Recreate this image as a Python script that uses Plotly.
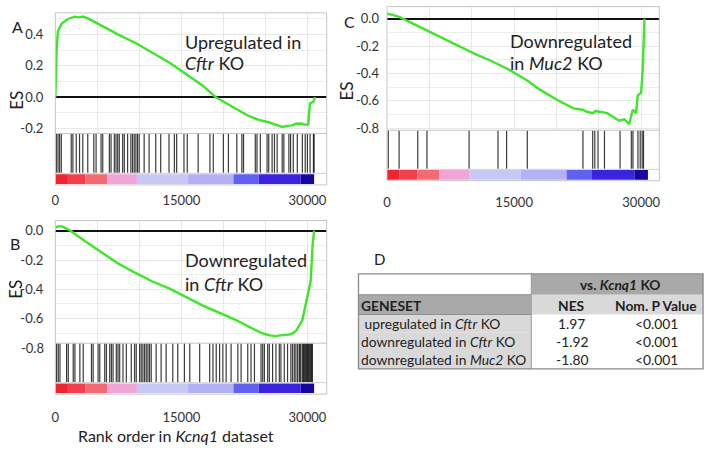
import plotly.graph_objects as go

W, H = 712, 454
FONT = "Lato, 'Open Sans', sans-serif"
GREEN = "#3fe52b"
HITCOL = "rgba(10,10,10,0.8)"

# ---------------- data ----------------
# ranked-list colour strip (shared by all three panels)
strip_edges = [0, 1500, 3600, 6200, 9700, 15800, 21200, 24200, 29200, 30800]
strip_colors = ["#ec2530", "#ef3f4c", "#f26b74", "#efa5d6", "#c8c8f7",
                "#b3b0f3", "#6161f0", "#3b22dc", "#16069f"]

x_tick_vals = [0, 15000, 30000]

# Panel A: upregulated in Cftr KO
a_rank = [0, 150, 300, 750, 1500, 2300, 2800, 3300, 4000, 5700, 7500, 9600, 11500,
          13600, 15500, 17500, 19100, 21500, 23000, 24200, 24700, 25400, 26200,
          27000, 27600, 28200, 28600, 29200, 29700, 30100, 30300, 30700, 30900]
a_es = [0.0, 0.30, 0.42, 0.47, 0.50, 0.515, 0.51, 0.515, 0.50, 0.45, 0.40, 0.345, 0.285,
        0.22, 0.15, 0.075, 0.0, -0.075, -0.12, -0.145, -0.15, -0.16, -0.175,
        -0.19, -0.183, -0.18, -0.17, -0.168, -0.175, -0.175, -0.04, -0.03, 0.0]
a_hits = [120, 320, 510, 710, 1890, 2090, 2490, 2880, 3270, 3860, 4580, 4850, 5440,
          5640, 6430, 6630, 7020, 7220, 7420, 7610, 8010, 8210, 8600, 8990, 9190,
          9390, 9590, 9780, 9980, 10570, 11160, 11950, 12540, 13530, 14170, 14440,
          15310, 15700, 17000, 18400, 18800, 20000, 20600, 21600, 22200, 22400,
          23800, 24000, 24400, 25200, 25400, 25800, 26080, 26400, 27000, 27200,
          27800, 28000, 28320, 28800, 29400, 29740, 30000, 30320, 30720, 30800]
a_yticks = [-0.2, 0.0, 0.2, 0.4]

# Panel B: downregulated in Cftr KO
b_rank = [0, 300, 800, 1200, 1800, 3500, 5700, 7500, 9600, 11500, 13600, 15500,
          17500, 19500, 21500, 23000, 24600, 25500, 26200, 26800, 27800, 28300,
          28700, 29100, 29400, 30000, 30400, 30600, 30800]
b_es = [0.02, 0.03, 0.03, 0.02, 0.0, -0.07, -0.155, -0.225, -0.29, -0.345, -0.395,
        -0.45, -0.51, -0.56, -0.61, -0.655, -0.70, -0.715, -0.72, -0.715, -0.71,
        -0.70, -0.68, -0.64, -0.61, -0.45, -0.34, -0.11, 0.0]
b_hits = [150, 350, 550, 1340, 1540, 2130, 2330, 2920, 3320, 4300, 4500, 5090, 5290,
          5880, 6080, 6470, 6670, 6870, 7260, 7460, 7660, 8050, 8450, 9040, 9430,
          9630, 10030, 10220, 10420, 10620, 10820, 11020, 11210, 11410, 12000,
          12590, 13190, 13980, 14570, 15360, 16000, 17180, 18370, 18760, 19150,
          19550, 19940, 20330, 20920, 21720, 22110, 22900, 23290, 23700, 24480,
          24680, 24880, 25270, 25470, 25860, 26260, 26660, 26850, 27250, 27640,
          28030, 28230, 28440, 28630, 28830, 29030, 29120, 29220, 29420, 29520,
          29620, 29710, 29810, 29910, 30010, 30110, 30210, 30300, 30400, 30500, 30600]
b_yticks = [-0.8, -0.6, -0.4, -0.2, 0.0]

# Panel C: downregulated in Muc2 KO
c_rank = [0, 600, 1500, 1900, 4000, 6400, 8300, 10300, 12200, 14200, 16500, 18100,
          20000, 22000, 23100, 23600, 24300, 24600, 25100, 25600, 26000, 27400,
          28000, 28600, 28900, 29000, 29400, 29600, 30000, 30200, 30390]
c_es = [0.036, 0.03, 0.012, 0.0, -0.065, -0.135, -0.19, -0.255, -0.305, -0.365,
        -0.45, -0.52, -0.59, -0.655, -0.665, -0.68, -0.69, -0.675, -0.68, -0.685,
        -0.69, -0.745, -0.735, -0.77, -0.70, -0.665, -0.69, -0.56, -0.54, -0.35, 0.0]
c_hits = [150, 1430, 3630, 4720, 9690, 13100, 14120, 16560, 23130, 24280, 24530,
          24910, 25670, 27510, 28840, 29030, 29620, 29890, 30120, 30280]
c_yticks = [-0.8, -0.6, -0.4, -0.2, 0.0]

# Table D
table_genesets = ["&nbsp;upregulated in <i>Cftr</i> KO",
                  "downregulated in <i>Cftr</i> KO",
                  "downregulated in <i>Muc2</i> KO"]
table_nes = [1.97, -1.92, -1.80]
table_p = ["&lt;0.001", "&lt;0.001", "&lt;0.001"]

# ---------------- layout geometry (pixels) ----------------
panels = [
    dict(rank=a_rank, es=a_es, hits=a_hits, yticks=a_yticks, L=51.7, R=325, top=13,
         esb=135, bot=187, xmax=32300, yr=[-0.232, 0.539], xstand=6, ystand=11,
         letter="A", lpos=(14, 27), espos=(13, 101), zero_px=98.3, step_px=31.67,
         text=["Upregulated in", "<i>Cftr</i> KO"], tpos=[(180, 42), (180, 64)]),
    dict(rank=b_rank, es=b_es, hits=b_hits, yticks=b_yticks, L=51.7, R=325, top=223,
         esb=347, bot=398.5, xmax=32300, yr=[-0.768, 0.0696], xstand=14, ystand=11,
         letter="B", lpos=(11, 246), espos=(12, 292), zero_px=233.3, step_px=29.6,
         text=["Downregulated", "in <i>Cftr</i> KO"], tpos=[(180, 263), (180, 287)]),
    dict(rank=c_rank, es=c_es, hits=c_hits, yticks=c_yticks, L=385.7, R=660, top=6.7,
         esb=131.7, bot=182.7, xmax=32150, yr=[-0.815, 0.089], xstand=12, ystand=7,
         letter="C", lpos=(348, 22), espos=(345, 92), zero_px=19, step_px=27.67,
         text=["Downregulated", "in <i>Muc2</i> KO"], tpos=[(508, 41), (508, 64)]),
]


def px(x):
    return x / W


def py(y):
    return 1 - y / H


fig = go.Figure()
layout = dict(width=W, height=H, margin=dict(l=0, r=0, t=0, b=0),
              paper_bgcolor="white", plot_bgcolor="white", showlegend=False,
              barmode="overlay", font=dict(family=FONT, color="#222"))
shapes, annotations = [], []
TICKFONT = dict(family=FONT, size=13, color="#333")

BAR_BASE, BAR_TOP, SEP, HIT_LO = 0.02, 0.21, 0.225, 0.235

for i, p in enumerate(panels):
    ex, ey = 2 * i + 1, 2 * i + 1
    bx, by = 2 * i + 2, 2 * i + 2
    xdom = [px(p["L"]), px(p["R"])]
    lo, hi = p["yr"]
    in_ticks = [v for v in p["yticks"] if lo <= v <= hi]
    # ES axes
    layout[f"xaxis{ex}"] = dict(domain=xdom, range=[0, p["xmax"]], anchor=f"y{ey}",
                               showticklabels=False, showgrid=True, gridcolor="#e8e8e8",
                               tick0=0, dtick=5000, ticks="", zeroline=False, showline=False)
    layout[f"yaxis{ey}"] = dict(domain=[py(p["esb"]), py(p["top"])], range=p["yr"],
                               anchor=f"x{ex}", tickmode="array", tickvals=in_ticks,
                               ticktext=[f"{v:.1f}" for v in in_ticks],
                               showgrid=True, gridcolor="#e8e8e8",
                               minor=dict(tickmode="linear", tick0=0, dtick=0.1,
                                          showgrid=True, gridcolor="#eeeeee"),
                               zeroline=True, zerolinecolor="#111", zerolinewidth=1.6,
                               ticks="", showline=False, ticklabelstandoff=p["ystand"],
                               tickfont=TICKFONT)
    # tick labels that fall just outside the ES window (drawn as text)
    for v in p["yticks"]:
        if not (lo <= v <= hi):
            annotations.append(dict(text=f"{v:.1f}", x=px(p["L"] - 9),
                                    y=py(p["zero_px"] - v / 0.2 * p["step_px"]),
                                    xref="paper", yref="paper", xanchor="right",
                                    yanchor="middle", showarrow=False, font=TICKFONT))
    # barcode / strip axes
    layout[f"xaxis{bx}"] = dict(domain=xdom, range=[0, p["xmax"]], anchor=f"y{by}",
                               tickmode="array", tickvals=x_tick_vals,
                               ticktext=[str(v) for v in x_tick_vals],
                               showgrid=False, zeroline=False, ticks="", showline=False,
                               ticklabelstandoff=p["xstand"], tickfont=TICKFONT)
    layout[f"yaxis{by}"] = dict(domain=[py(p["bot"]), py(p["esb"])], range=[0, 1],
                               anchor=f"x{bx}", visible=False)

    # ES curve
    fig.add_trace(go.Scatter(x=p["rank"], y=p["es"], mode="lines",
                             line=dict(color=GREEN, width=2.4),
                             xaxis=f"x{ex}", yaxis=f"y{ey}", hoverinfo="skip"))
    # barcode
    hx, hy = [], []
    for h in p["hits"]:
        hx += [h, h, None]
        hy += [HIT_LO, 1, None]
    fig.add_trace(go.Scatter(x=hx, y=hy, mode="lines",
                             line=dict(color=HITCOL, width=1.2),
                             xaxis=f"x{bx}", yaxis=f"y{by}", hoverinfo="skip"))
    # colour strip
    centers = [(a + b) / 2 for a, b in zip(strip_edges[:-1], strip_edges[1:])]
    widths = [b - a for a, b in zip(strip_edges[:-1], strip_edges[1:])]
    fig.add_trace(go.Bar(x=centers, width=widths, y=[BAR_TOP - BAR_BASE] * len(centers),
                         base=BAR_BASE, marker=dict(color=strip_colors, line=dict(width=0)),
                         xaxis=f"x{bx}", yaxis=f"y{by}", hoverinfo="skip"))

    # borders
    shapes.append(dict(type="rect", xref="paper", yref="paper",
                       x0=px(p["L"]), x1=px(p["R"]), y0=py(p["bot"]), y1=py(p["top"]),
                       line=dict(color="#c4c4c4", width=1), layer="above"))
    shapes.append(dict(type="line", xref="paper", yref="paper",
                       x0=px(p["L"]), x1=px(p["R"]), y0=py(p["esb"]), y1=py(p["esb"]),
                       line=dict(color="#c4c4c4", width=1), layer="above"))
    shapes.append(dict(type="line", xref=f"x{bx} domain", yref=f"y{by}",
                       x0=0, x1=1, y0=SEP, y1=SEP,
                       line=dict(color="#cfcfcf", width=1), layer="above"))

    # labels
    annotations.append(dict(text=p["letter"], x=px(p["lpos"][0]), y=py(p["lpos"][1]),
                            xref="paper", yref="paper", showarrow=False,
                            xanchor="center", yanchor="middle",
                            font=dict(family=FONT, size=16, color="#222")))
    annotations.append(dict(text="ES", x=px(p["espos"][0]), y=py(p["espos"][1]),
                            xref="paper", yref="paper", showarrow=False, textangle=-90,
                            xanchor="center", yanchor="middle",
                            font=dict(family=FONT, size=17, color="#222")))
    for t, (tx, ty) in zip(p["text"], p["tpos"]):
        annotations.append(dict(text=t, x=px(tx), y=py(ty), xref="paper", yref="paper",
                                xanchor="left", yanchor="middle", showarrow=False,
                                font=dict(family=FONT, size=18, color="#222")))

# x-axis title under B
annotations.append(dict(text="Rank order in <i>Kcnq1</i> dataset", x=px(173), y=py(440),
                        xref="paper", yref="paper", showarrow=False,
                        xanchor="center", yanchor="middle",
                        font=dict(family=FONT, size=16, color="#222")))

# ---------------- table D ----------------
col_x = [357, 531, 614, 704]
row_y = [277, 298, 318, 336, 354, 373]
DARK, LIGHT = "#a9a9a9", "#d9d9d9"


def cell(x0, x1, y0, y1, fill):
    shapes.append(dict(type="rect", xref="paper", yref="paper", x0=px(x0), x1=px(x1),
                       y0=py(y1), y1=py(y0), fillcolor=fill, line=dict(width=0),
                       layer="below"))


cell(col_x[0], col_x[1], row_y[0], row_y[1], "white")
cell(col_x[1], col_x[3], row_y[0], row_y[1], DARK)
cell(col_x[0], col_x[1], row_y[1], row_y[2], DARK)
cell(col_x[1], col_x[3], row_y[1], row_y[2], LIGHT)
for r in range(len(table_genesets)):
    cell(col_x[0], col_x[1], row_y[2 + r], row_y[3 + r], LIGHT)
for yy in row_y[1:3]:
    shapes.append(dict(type="line", xref="paper", yref="paper", x0=px(col_x[0]),
                       x1=px(col_x[1]), y0=py(yy), y1=py(yy),
                       line=dict(color="#8f8f8f", width=1)))
shapes.append(dict(type="line", xref="paper", yref="paper", x0=px(col_x[1]),
                   x1=px(col_x[1]), y0=py(row_y[-1]), y1=py(row_y[0]),
                   line=dict(color="#9a9a9a", width=1)))
shapes.append(dict(type="rect", xref="paper", yref="paper", x0=px(col_x[0]),
                   x1=px(col_x[3]), y0=py(row_y[-1]), y1=py(row_y[0]),
                   line=dict(color="#8a8a8a", width=1.3)))

TF = dict(family=FONT, size=13.8, color="#222")


def ttext(t, x, y, anchor):
    annotations.append(dict(text=t, x=px(x), y=py(y), xref="paper", yref="paper",
                            xanchor=anchor, yanchor="middle", showarrow=False, font=TF))


ncx = 572
pcx = 657
ttext("<b>vs. <i>Kcnq1</i> KO</b>", 621, (row_y[0] + row_y[1]) / 2, "center")
ttext("<b>GENESET</b>", col_x[0] + 1, (row_y[1] + row_y[2]) / 2 + 1, "left")
ttext("<b>NES</b>", ncx, (row_y[1] + row_y[2]) / 2 + 1, "center")
ttext("<b>Nom. P Value</b>", pcx, (row_y[1] + row_y[2]) / 2 + 1, "center")
for r, (g, n, pv) in enumerate(zip(table_genesets, table_nes, table_p)):
    yc = (row_y[2 + r] + row_y[3 + r]) / 2
    ttext(g, col_x[0] + 1, yc, "left")
    ttext(f"{n:.2f}", ncx, yc, "center")
    ttext(pv, pcx, yc, "center")

annotations.append(dict(text="D", x=px(378), y=py(262), xref="paper", yref="paper",
                        xanchor="center", yanchor="middle", showarrow=False,
                        font=dict(family=FONT, size=15, color="#222")))

layout["shapes"] = shapes
layout["annotations"] = annotations
fig.update_layout(**layout)
fig.write_html("out.html", config={"displayModeBar": False},
               post_script="document.body.style.margin='0px';"
                           "document.body.style.overflow='hidden';")
